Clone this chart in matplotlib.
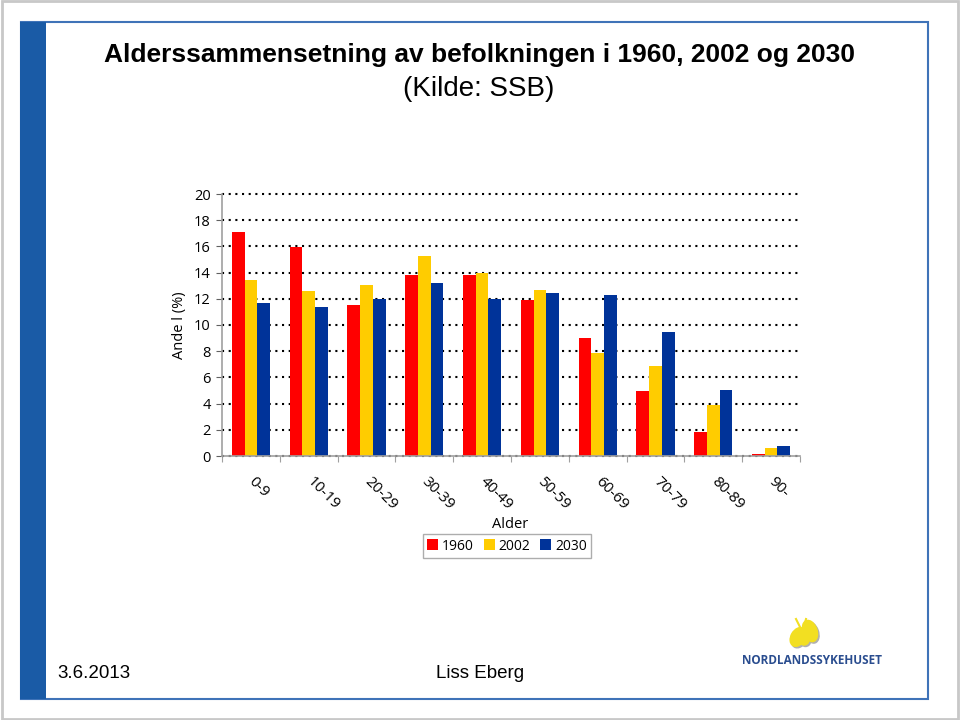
#!/usr/bin/env python3

import numpy as np
import matplotlib.pyplot as plt
from matplotlib.patches import Rectangle, Ellipse

ages = ['0-9', '10-19', '20-29', '30-39', '40-49', '50-59', '60-69', '70-79', '80-89', '90-']
years = ['1960', '2002', '2030']
share_1960 = [17.1, 15.95, 11.5, 13.85, 13.85, 11.9, 9.0, 5.0, 1.8, 0.18]
share_2002 = [13.4, 12.6, 13.05, 15.3, 14.0, 12.65, 7.85, 6.9, 3.9, 0.6]
share_2030 = [11.65, 11.4, 12.0, 13.2, 12.0, 12.45, 12.3, 9.45, 5.05, 0.78]
colors = ['#ff0000', '#ffcc00', '#003399']

title = 'Alderssammensetning av befolkningen i 1960, 2002 og 2030'
subtitle = '(Kilde: SSB)'

fig = plt.figure(figsize=(9.6, 7.2), dpi=100)

# slide frame
fig.patches.append(Rectangle((0.002, 0.002), 0.996, 0.996, transform=fig.transFigure,
                             fill=False, edgecolor='#c8c8c8', linewidth=2))
fig.patches.append(Rectangle((21/960, 1 - 699/720), (928 - 21)/960, (699 - 22)/720,
                             transform=fig.transFigure, fill=False,
                             edgecolor='#3f73b8', linewidth=1.5))
fig.patches.append(Rectangle((20/960, 1 - 699/720), 26/960, (699 - 22)/720,
                             transform=fig.transFigure, facecolor='#1a5ba6', edgecolor='none'))

fig.text(479/960, 1 - 55/720, title, ha='center', va='center', fontsize=19,
         fontweight='bold', family='Liberation Sans')
fig.text(479/960, 1 - 89/720, subtitle, ha='center', va='center', fontsize=20,
         family='Liberation Sans')

ax = fig.add_axes([222/960, 1 - 456/720, 578/960, 262/720])
x = np.arange(len(ages)) + 0.5
w = 0.22
for i, (vals, c) in enumerate(zip([share_1960, share_2002, share_2030], colors)):
    ax.bar(x + (i - 1) * w, vals, width=w, color=c, label=years[i], zorder=3)

ax.set_xlim(0, len(ages))
ax.set_ylim(0, 20)
ax.set_yticks(np.arange(0, 21, 2))
ax.yaxis.grid(True, color='black', linestyle=(0, (1, 2.2)), linewidth=1.5, zorder=1)
for gl in ax.get_ygridlines():
    gl.set_clip_on(False)
ax.set_axisbelow(True)
for s in ['top', 'right']:
    ax.spines[s].set_visible(False)
for s in ['left', 'bottom']:
    ax.spines[s].set_color('#a0a0a0')
    ax.spines[s].set_linewidth(1.2)
    ax.spines[s].set_zorder(4)

ax.set_xticks(np.arange(0, len(ages) + 1))
ax.set_xticklabels([])
ax.set_xticks(x, minor=True)
ax.set_xticklabels(ages, minor=True, rotation=-45, ha='left', va='center',
                   rotation_mode='anchor', fontsize=11, family='Open Sans')
ax.tick_params(axis='x', which='major', length=4, color='#a0a0a0', direction='out')
ax.tick_params(axis='x', which='minor', length=0, pad=17)
ax.tick_params(axis='y', length=4, color='#606060', labelsize=10.5, pad=4)
for lbl in ax.get_yticklabels():
    lbl.set_family('Open Sans')

ax.set_ylabel('Ande l (%)', fontsize=10.5, family='Open Sans', labelpad=5)
fig.text(510/960, 1 - 525/720, 'Alder', ha='center', va='center', fontsize=10.5,
         family='Open Sans')

leg = ax.legend(loc='center', bbox_to_anchor=(507/960, 1 - 546/720),
                bbox_transform=fig.transFigure, ncol=3, frameon=True, fancybox=False,
                handlelength=0.8, handleheight=0.8, handletextpad=0.3,
                columnspacing=0.7, borderpad=0.3, prop={'family': 'Open Sans', 'size': 10})
leg.get_frame().set_edgecolor('#999999')
leg.get_frame().set_linewidth(1.0)

# footer
fig.text(57/960, 1 - 673/720, '3.6.2013', ha='left', va='center', fontsize=13.5,
         family='Liberation Sans')
fig.text(480/960, 1 - 673/720, 'Liss Eberg', ha='center', va='center', fontsize=13.5,
         family='Liberation Sans')

# logo
lax = fig.add_axes([780/960, 1 - 655/720, 50/960, 45/720])
lax.set_xlim(0, 50)
lax.set_ylim(0, 45)
lax.axis('off')
for dx, dy, col in [(1.5, -1.5, '#b0b0b0'), (0, 0, '#f2df22')]:
    lax.add_patch(Ellipse((18 + dx, 18 + dy), 14, 20, angle=-30, color=col))
    lax.add_patch(Ellipse((30 + dx, 24 + dy), 14, 22, angle=20, color=col))
    lax.add_patch(Ellipse((24 + dx, 15 + dy), 10, 10, color=col))
lax.plot([20, 16], [28, 36], color='#f2df22', lw=1.5)
lax.plot([24, 26], [28, 36], color='#f2df22', lw=1.5)
fig.text(812/960, 1 - 661/720, 'NORDLANDSSYKEHUSET', ha='center', va='center',
         fontsize=8.5, fontweight='bold', color='#2a4d8f', family='Open Sans')

fig.savefig('out.png', dpi=100)
